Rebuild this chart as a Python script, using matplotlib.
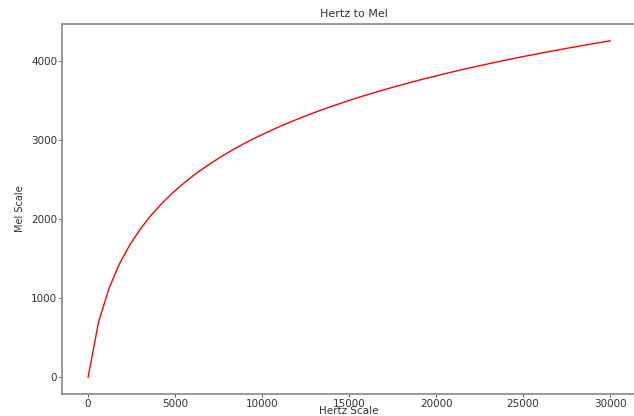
import matplotlib
matplotlib.use("Agg")
import matplotlib.pyplot as plt

# frequency samples (Hz) and the mel values
hertz = [i * 600 for i in range(51)]
mel = [0, 698, 1125, 1435, 1677, 1877, 2046, 2193, 2323, 2440,
       2546, 2642, 2731, 2814, 2891, 2963, 3030, 3094, 3155, 3212,
       3266, 3318, 3368, 3416, 3461, 3505, 3548, 3588, 3628, 3666,
       3702, 3738, 3773, 3806, 3839, 3870, 3901, 3931, 3960, 3988,
       4016, 4043, 4070, 4095, 4121, 4145, 4169, 4193, 4216, 4239,
       4261]

fig = plt.figure(figsize=(6.34, 4.16), dpi=100)
# the original is a cropped screenshot: the axes run past the right edge
ax = fig.add_axes([62 / 634, 22 / 416, 584 / 634, 370 / 416])

ax.plot(hertz, mel, color="red", linewidth=1.0)
ax.set_xlim(-1500, -1500 + 584 * 30000 / 522)

ax.set_title("Hertz to Mel", fontsize=8, pad=5, color="#333333")
ax.set_xlabel("Hertz Scale", fontsize=7.5, color="#333333", va="bottom")
ax.xaxis.set_label_coords((349 - 62) / 584, -22 / 370)
ax.set_ylabel("Mel Scale", fontsize=7, labelpad=4, color="#333333")
ax.tick_params(labelsize=7.5, length=2.5, width=0.7, pad=1,
               color="#555555", labelcolor="#333333")
ax.set_xticks([0, 5000, 10000, 15000, 20000, 25000, 30000])
ax.set_yticks([0, 1000, 2000, 3000, 4000])
for s in ax.spines.values():
    s.set_color("#888888")
    s.set_linewidth(1.2)

fig.savefig("out.png", dpi=100)
